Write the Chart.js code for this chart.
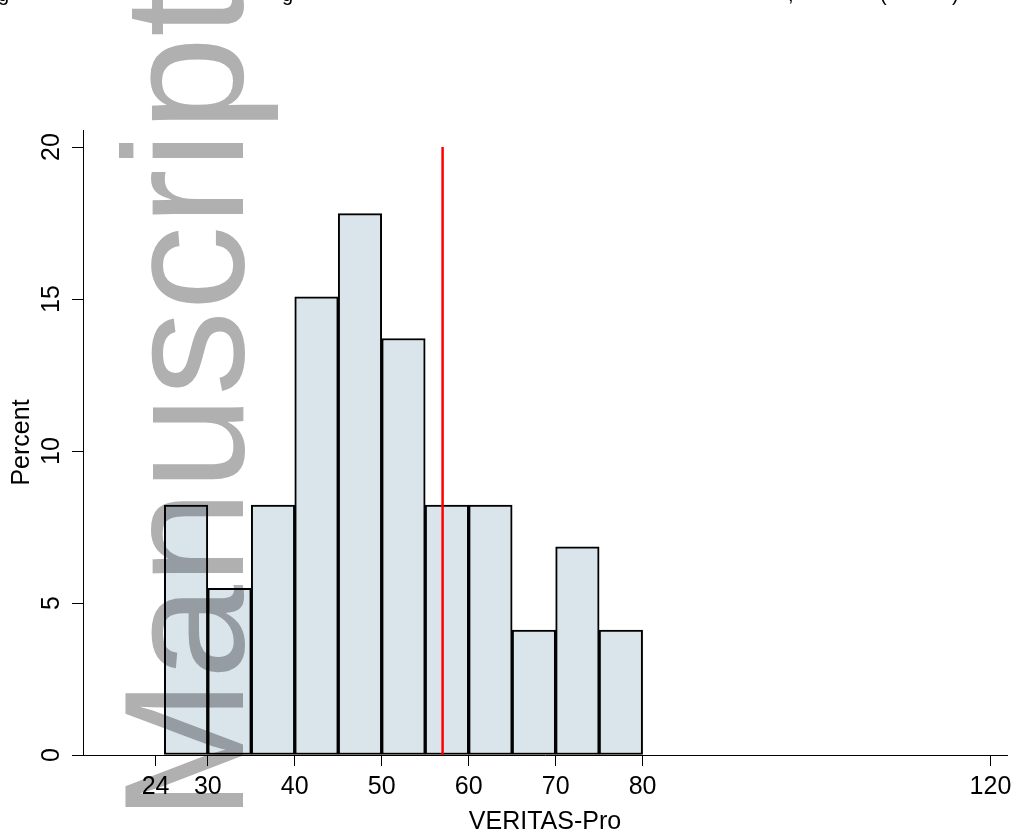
<!DOCTYPE html>
<html>
<head>
<meta charset="utf-8">
<script src="https://cdn.jsdelivr.net/npm/chart.js@4"></script>
<style>
  body { margin: 0; background: #fff; overflow: hidden; }
  #wrap { position: relative; width: 1014px; height: 838px; }
  .frag { position: absolute; top: -16px; font: 20px "Liberation Sans", Arial, sans-serif; line-height: 20px; color: #000; }
</style>
</head>
<body>
<div id="wrap">
  <canvas id="chart"></canvas>
  <!-- caption line cut off at the top, only descenders show -->
  <span class="frag" style="left:-2px">g</span>
  <span class="frag" style="left:282px">g</span>
  <span class="frag" style="left:788px">,</span>
  <span class="frag" style="left:880px">(</span>
  <span class="frag" style="left:952px">)</span>
</div>
<script>
// histogram bins (VERITAS-Pro score, width 5) and percent per bin
const binStarts = [25, 30, 35, 40, 45, 50, 55, 60, 65, 70, 75];
const percents = [8.22, 5.48, 8.22, 15.07, 17.81, 13.70, 8.22, 8.22, 4.11, 6.85, 4.11];
const binWidth = 5;
const xTicks = [24, 30, 40, 50, 60, 70, 80, 120];
const yTicks = [0, 5, 10, 15, 20];
const refLineX = 57;
const refLineTop = 20;

const FONT = '"Liberation Sans", Arial, Helvetica, sans-serif';

const barData = binStarts.map((s, i) => ({ x: s + binWidth / 2, y: percents[i] }));

// tick labels, axis titles and watermark drawn at scale positions
const textPlugin = {
    id: 'axisText',
    afterDraw(chart) {
        const ctx = chart.ctx;
        const xs = chart.scales.x;
        const ys = chart.scales.y;
        const area = chart.chartArea;
        ctx.save();
        ctx.fillStyle = '#000';
        ctx.font = '25px ' + FONT;
        ctx.textAlign = 'center';
        ctx.textBaseline = 'middle';
        xTicks.forEach(v => {
            ctx.fillText(String(v), xs.getPixelForValue(v), 787);
        });
        ctx.fillText('VERITAS-Pro', (area.left + area.right) / 2, 822);

        yTicks.forEach(v => {
            ctx.save();
            ctx.translate(52, ys.getPixelForValue(v));
            ctx.rotate(-Math.PI / 2);
            ctx.fillText(String(v), 0, 0);
            ctx.restore();
        });
        ctx.save();
        ctx.translate(22, (area.top + area.bottom) / 2);
        ctx.rotate(-Math.PI / 2);
        ctx.fillText('Percent', 0, 0);
        ctx.restore();

        // watermark
        ctx.globalCompositeOperation = 'multiply';
        ctx.fillStyle = '#b0b0b0';
        ctx.font = '170px ' + FONT;
        ctx.textAlign = 'left';
        ctx.textBaseline = 'alphabetic';
        ctx.translate(243, 821);
        ctx.rotate(-Math.PI / 2);
        ctx.fillText('Manuscript', 0, 0);
        ctx.restore();
    }
};

const ctx = document.getElementById('chart').getContext('2d');
new Chart(ctx, {
    type: 'bar',
    data: {
        datasets: [{
            type: 'bar',
            data: barData,
            backgroundColor: '#d9e4eb',
            borderColor: '#000',
            borderWidth: 2,
            borderSkipped: false,
            barPercentage: 1,
            categoryPercentage: 1,
            order: 2
        }, {
            type: 'line',
            data: [{ x: refLineX, y: 0 }, { x: refLineX, y: refLineTop }],
            borderColor: '#ff0000',
            borderWidth: 2.5,
            pointRadius: 0,
            order: 1
        }]
    },
    options: {
        responsive: true,
        maintainAspectRatio: false,
        animation: false,
        layout: { padding: { left: 72, right: 7, top: 130, bottom: 72 } },
        plugins: { legend: { display: false }, tooltip: { enabled: false } },
        scales: {
            x: {
                type: 'linear',
                min: 15.65,
                max: 121.9,
                offset: false,
                afterBuildTicks: s => { s.ticks = xTicks.map(v => ({ value: v })); },
                ticks: { display: false },
                grid: { offset: false, drawOnChartArea: false, drawTicks: true, tickLength: 11, color: '#000', lineWidth: 1 },
                border: { display: true, color: '#000', width: 1 }
            },
            y: {
                type: 'linear',
                min: 0,
                max: 20.56,
                afterBuildTicks: s => { s.ticks = yTicks.map(v => ({ value: v })); },
                ticks: { display: false },
                grid: { drawOnChartArea: false, drawTicks: true, tickLength: 11, color: '#000', lineWidth: 1 },
                border: { display: true, color: '#000', width: 1 }
            }
        }
    },
    plugins: [textPlugin]
});
</script>
</body>
</html>
